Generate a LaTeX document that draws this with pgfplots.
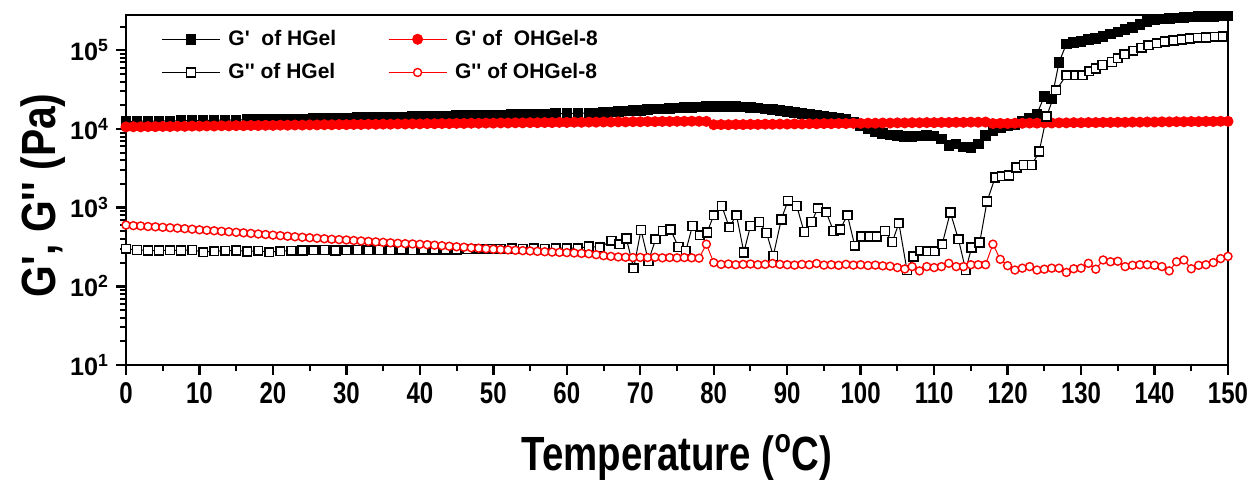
\documentclass[border=0pt]{standalone}
\usepackage{fontspec}
\newfontfamily\af{Liberation Sans}
\usepackage{pgfplots}
\pgfplotsset{compat=1.18}
\definecolor{myred}{RGB}{255,0,0}
\begin{document}
\af\bfseries
\begin{tikzpicture}
\begin{semilogyaxis}[
  scale only axis, width=551pt, height=175pt,
  xmin=0, xmax=150, ymin=10, ymax=2.8e5,
  axis line style={line width=1.4pt},
  xtick={0,10,...,150}, minor x tick num=1,
  ytick={10,100,1000,10000,100000},
  minor ytick={20,30,40,50,60,70,80,90,200,300,400,500,600,700,800,900,2000,3000,4000,5000,6000,7000,8000,9000,20000,30000,40000,50000,60000,70000,80000,90000,200000},
  yticklabels={10\textsuperscript{1},10\textsuperscript{2},10\textsuperscript{3},10\textsuperscript{4},10\textsuperscript{5}},
  xticklabel={\scalebox{0.8}[1]{\pgfmathprintnumber[assume math mode=true]{\tick}}},
  xticklabel style={font=\fontsize{15}{15}\selectfont},
  yticklabel style={font=\fontsize{12.6}{13}\selectfont},
  tick align=outside, xtick pos=bottom, ytick pos=left,
  major tick length=5pt, minor tick length=3pt,
  major tick style={black, line width=1.2pt},
  minor tick style={black, line width=1pt},
  every axis x label/.style={at={(axis description cs:0.5,0)}, anchor=center, yshift=-46pt, font=\fontsize{24}{24}\selectfont},
  every axis y label/.style={at={(axis description cs:-0.075,0.485)}, anchor=center, rotate=90, font=\fontsize{24}{24}\selectfont},
  xlabel={\scalebox{0.8}[1]{Temperature (\textsuperscript{o}C)}},
  ylabel={\scalebox{0.85}[1]{G', G'' (Pa)}},
  legend columns=2,
  legend cell align=left,
  legend style={draw=none, fill=none, at={(axis description cs:0.03,0.975)}, anchor=north west, column sep=2pt, row sep=3.5pt, font=\fontsize{10.5}{12}\selectfont, inner sep=1pt, /tikz/every even column/.append style={column sep=24pt}},
  legend image code/.code={\draw[mark repeat=2,mark phase=2] plot coordinates {(0pt,0pt) (14.5pt,0pt) (29pt,0pt)};},
]
\coordinate (sw) at (rel axis cs:0,0);
\coordinate (ne) at (rel axis cs:1,1);
% G' of HGel
\addplot[black, line width=0.5pt, mark=square*, mark size=2.4pt, mark options={solid, fill=black}] coordinates {
(0,12500)(1.5,12500)(3,12550)(4.5,12600)(6,12650)(7.5,12700)(9,12750)(10.5,12800)(12,12900)(13.5,12950)(15,13000)(16.5,13100)(18,13150)(19.5,13200)(21,13300)(22.5,13350)(24,13400)(25.5,13500)(27,13600)(28.5,13700)(30,13750)(31.5,13850)(33,13950)(34.5,14000)(36,14100)(37.5,14200)(39,14300)(40.5,14400)(42,14500)(43.5,14600)(45,14700)(46.5,14800)(48,14900)(49.5,15000)(51,15100)(52.5,15200)(54,15300)(55.5,15400)(57,15500)(58.5,15600)(60,15700)(61.5,15800)(63,15900)
(64,16000)(65,16200)(66,16400)(67,16600)(68,16800)(69,17000)(70,17200)(71,17500)(72,17800)(73,18000)(74,18200)(75,18400)(76,18600)(77,18800)(78,19000)(79,19100)(80,19200)(81,19200)(82,19200)(83,19100)(84,19000)(85,18700)(86,18400)(87,18000)(88,17600)(89,17100)(90,16600)(91,16200)(92,15800)(93,15400)(94,15000)(95,14600)(96,14200)(97,13800)(98,13200)(99,12300)(100,11000)(101,10000)(102,9300)(103,8700)(104,8400)(105,8200)(106,8000)(107,8000)(108,8100)(109,8200)(110,8100)(111,7400)(112,6200)(113,6400)(114,5900)(115,5800)(116,6400)(117,8200)(118,9500)(119,10500)(120,11000)(121,11300)(122,12500)(123,13500)(124,15500)(125,26000)(126,24000)(127,70000)(128,120000)(129,125000)(130,130000)(131,136000)(132,142000)(133,150000)(134,160000)(135,170000)(136,182000)(137,195000)(138,212000)(139,232000)(140,245000)(141,250000)(142,255000)(143,258000)(144,262000)(145,265000)(146,268000)(147,270000)(148,270000)(149,272000)(150,272000)
};
\addlegendentry{G'\ \ of HGel}
% G' of OHGel-8
\addplot[myred, line width=0.5pt, mark=*, mark size=2.5pt, mark options={solid, fill=myred}] coordinates {
(0,10600)(1,10650)(2,10620)(3,10700)(4,10680)(5,10750)(6,10720)(7,10800)(8,10780)(9,10850)(10,10830)(11,10900)(12,10880)(13,10950)(14,10930)(15,11000)(16,10980)(17,11050)(18,11030)(19,11100)(20,11080)(21,11150)(22,11130)(23,11200)(24,11180)(25,11250)(26,11230)(27,11300)(28,11280)(29,11350)(30,11330)(31,11400)(32,11380)(33,11450)(34,11430)(35,11500)(36,11480)(37,11550)(38,11530)(39,11600)(40,11580)(41,11650)(42,11630)(43,11700)(44,11680)(45,11750)(46,11730)(47,11800)(48,11780)(49,11850)(50,11830)(51,11900)(52,11880)(53,11950)(54,11930)(55,12000)(56,11980)(57,12050)(58,12030)(59,12100)(60,12080)(61,12150)(62,12130)(63,12200)(64,12180)(65,12250)(66,12230)(67,12300)(68,12280)(69,12350)(70,12330)(71,12400)(72,12380)(73,12450)(74,12430)(75,12500)(76,12480)(77,12520)(78,12500)(79,12450)(80,11300)(81,11350)(82,11300)(83,11380)(84,11350)(85,11420)(86,11400)(87,11470)(88,11450)(89,11520)(90,11500)(91,11570)(92,11550)(93,11620)(94,11600)(95,11680)(96,11650)(97,11730)(98,11700)(99,11780)(100,11760)(101,11830)(102,11810)(103,11880)(104,11860)(105,11930)(106,11910)(107,11980)(108,11960)(109,12030)(110,12010)(111,12080)(112,12060)(113,12130)(114,12110)(115,12180)(116,12160)(117,12220)(118,11700)(119,11750)(120,11720)(121,11800)(122,11780)(123,11850)(124,11830)(125,11900)(126,11880)(127,11950)(128,11930)(129,12000)(130,11980)(131,12050)(132,12030)(133,12100)(134,12080)(135,12150)(136,12130)(137,12200)(138,12180)(139,12250)(140,12230)(141,12300)(142,12280)(143,12350)(144,12330)(145,12400)(146,12380)(147,12450)(148,12430)(149,12500)(150,12480)
};
\addlegendentry{G' of \ OHGel-8}
% G'' of HGel
\addplot[black, line width=0.5pt, mark=square*, mark size=2.2pt, mark options={solid, fill=white, line width=0.8pt}] coordinates {
(0,300)(1.5,290)(3,285)(4.5,285)(6,288)(7.5,285)(9,290)(10.5,272)(12,280)(13.5,282)(15,285)(16.5,278)(18,282)(19.5,272)(21,280)(22.5,283)(24,285)(25.5,288)(27,290)(28.5,285)(30,288)(31.5,290)(33,288)(34.5,290)(36,288)(37.5,292)(39,290)(40.5,292)(42,295)(43.5,293)(45,295)(46.5,298)(48,300)(49.5,300)(51,300)(52.5,302)(54,300)(55.5,305)(57,300)(58.5,305)(60,305)(61.5,305)(63,320)
(64.5,314)(66.1,378)(67.2,343)(68.1,406)(69.1,170)(70.1,520)(71.1,210)(72.1,397)(73.1,505)(74.1,530)(75.2,315)(76.2,282)(77.1,585)(78.1,445)(79.1,485)(80.0,800)(81.1,1050)(82.1,565)(83.1,800)(84.1,270)(85.0,585)(86.2,655)(87.2,475)(88.1,243)(89.2,710)(90.1,1220)(91.3,1050)(92.3,490)(93.3,655)(94.2,985)(95.3,875)(96.3,505)(97.2,530)(98.2,800)(99.2,327)(100.1,430)(101.2,430)(102.2,430)(103.3,505)(104.3,365)(105.2,635)(106.3,160)(107.2,240)(108.1,282)(109.1,280)(110.1,280)(111.1,343)(112.2,870)(113.3,397)(114.3,161)(115.1,311)(116.2,360)(117.2,1200)(118.3,2400)(119.2,2500)(120.2,2550)(121.2,3240)(122.2,3480)(123.3,3480)(124.3,5150)(125.3,14400)(126.6,31000)(128.0,48000)(129.2,48000)(130.2,48000)(131.1,54000)(132.0,58500)(132.9,65000)(134.2,71000)(135.0,79000)(135.9,89000)(137.1,98000)(138.2,107000)(139.2,116000)(140.3,123000)(141.4,129000)(142.6,133000)(143.7,136000)(144.8,140000)(145.9,144000)(147.0,145000)(148.2,148000)(149.3,150000)
};
\addlegendentry{G'' of HGel}
% G'' of OHGel-8
\addplot[myred, line width=0.5pt, mark=*, mark size=2pt, mark options={solid, fill=white, line width=0.7pt}] coordinates {
(0,600)(1,590)(2,585)(3,575)(4,570)(5,562)(6,555)(7,548)(8,540)(9,532)(10,522)(11,515)(12,508)(13,500)(14,493)(15,485)(16,478)(17,470)(18,462)(19,455)(20,447)(21,440)(22,433)(23,426)(24,420)(25,414)(26,408)(27,402)(28,396)(29,392)(30,388)(31,382)(32,377)(33,372)(34,367)(35,362)(36,357)(37,352)(38,348)(39,345)(40,342)(41,338)(42,333)(43,328)(44,323)(45,318)(46,314)(47,309)(48,305)(49,300)(50,296)(51,293)(52,290)(53,287)(54,284)(55,281)(56,278)(57,275)(58,272)(59,270)(60,268)(61,265)(62,262)(63,259)(64,252)(65,245)(66,240)(67,236)(68,234)(69,232)(70,233)(71,232)(72,234)(73,230)(74,232)(75,230)(76,232)(77,230)(78,228)(79,343)(80,200)(81,190)(82,192)(83,188)(84,190)(85,192)(86,188)(87,190)(88,195)(89,190)(90,188)(91,186)(92,190)(93,188)(94,195)(95,186)(96,188)(97,185)(98,190)(99,186)(100,188)(101,184)(102,186)(103,182)(104,180)(105,173)(106,166)(107,178)(108,157)(109,178)(110,173)(111,178)(112,196)(113,178)(114,178)(115,188)(116,188)(117,188)(118,343)(119,220)(120,183)(121,161)(122,170)(123,178)(124,161)(125,165)(126,170)(127,170)(128,150)(129,167)(130,170)(131,196)(132,165)(133,216)(134,205)(135,208)(136,178)(137,185)(138,188)(139,188)(140,185)(141,178)(142,157)(143,205)(144,216)(145,167)(146,185)(147,188)(148,200)(149,225)(150,240)
};
\addlegendentry{G'' of OHGel-8}
\end{semilogyaxis}
\pgfresetboundingbox
\path[use as bounding box] ([shift={(-63pt,-57pt)}]sw) rectangle ([shift={(15pt,7.5pt)}]ne);
\end{tikzpicture}
\end{document}
